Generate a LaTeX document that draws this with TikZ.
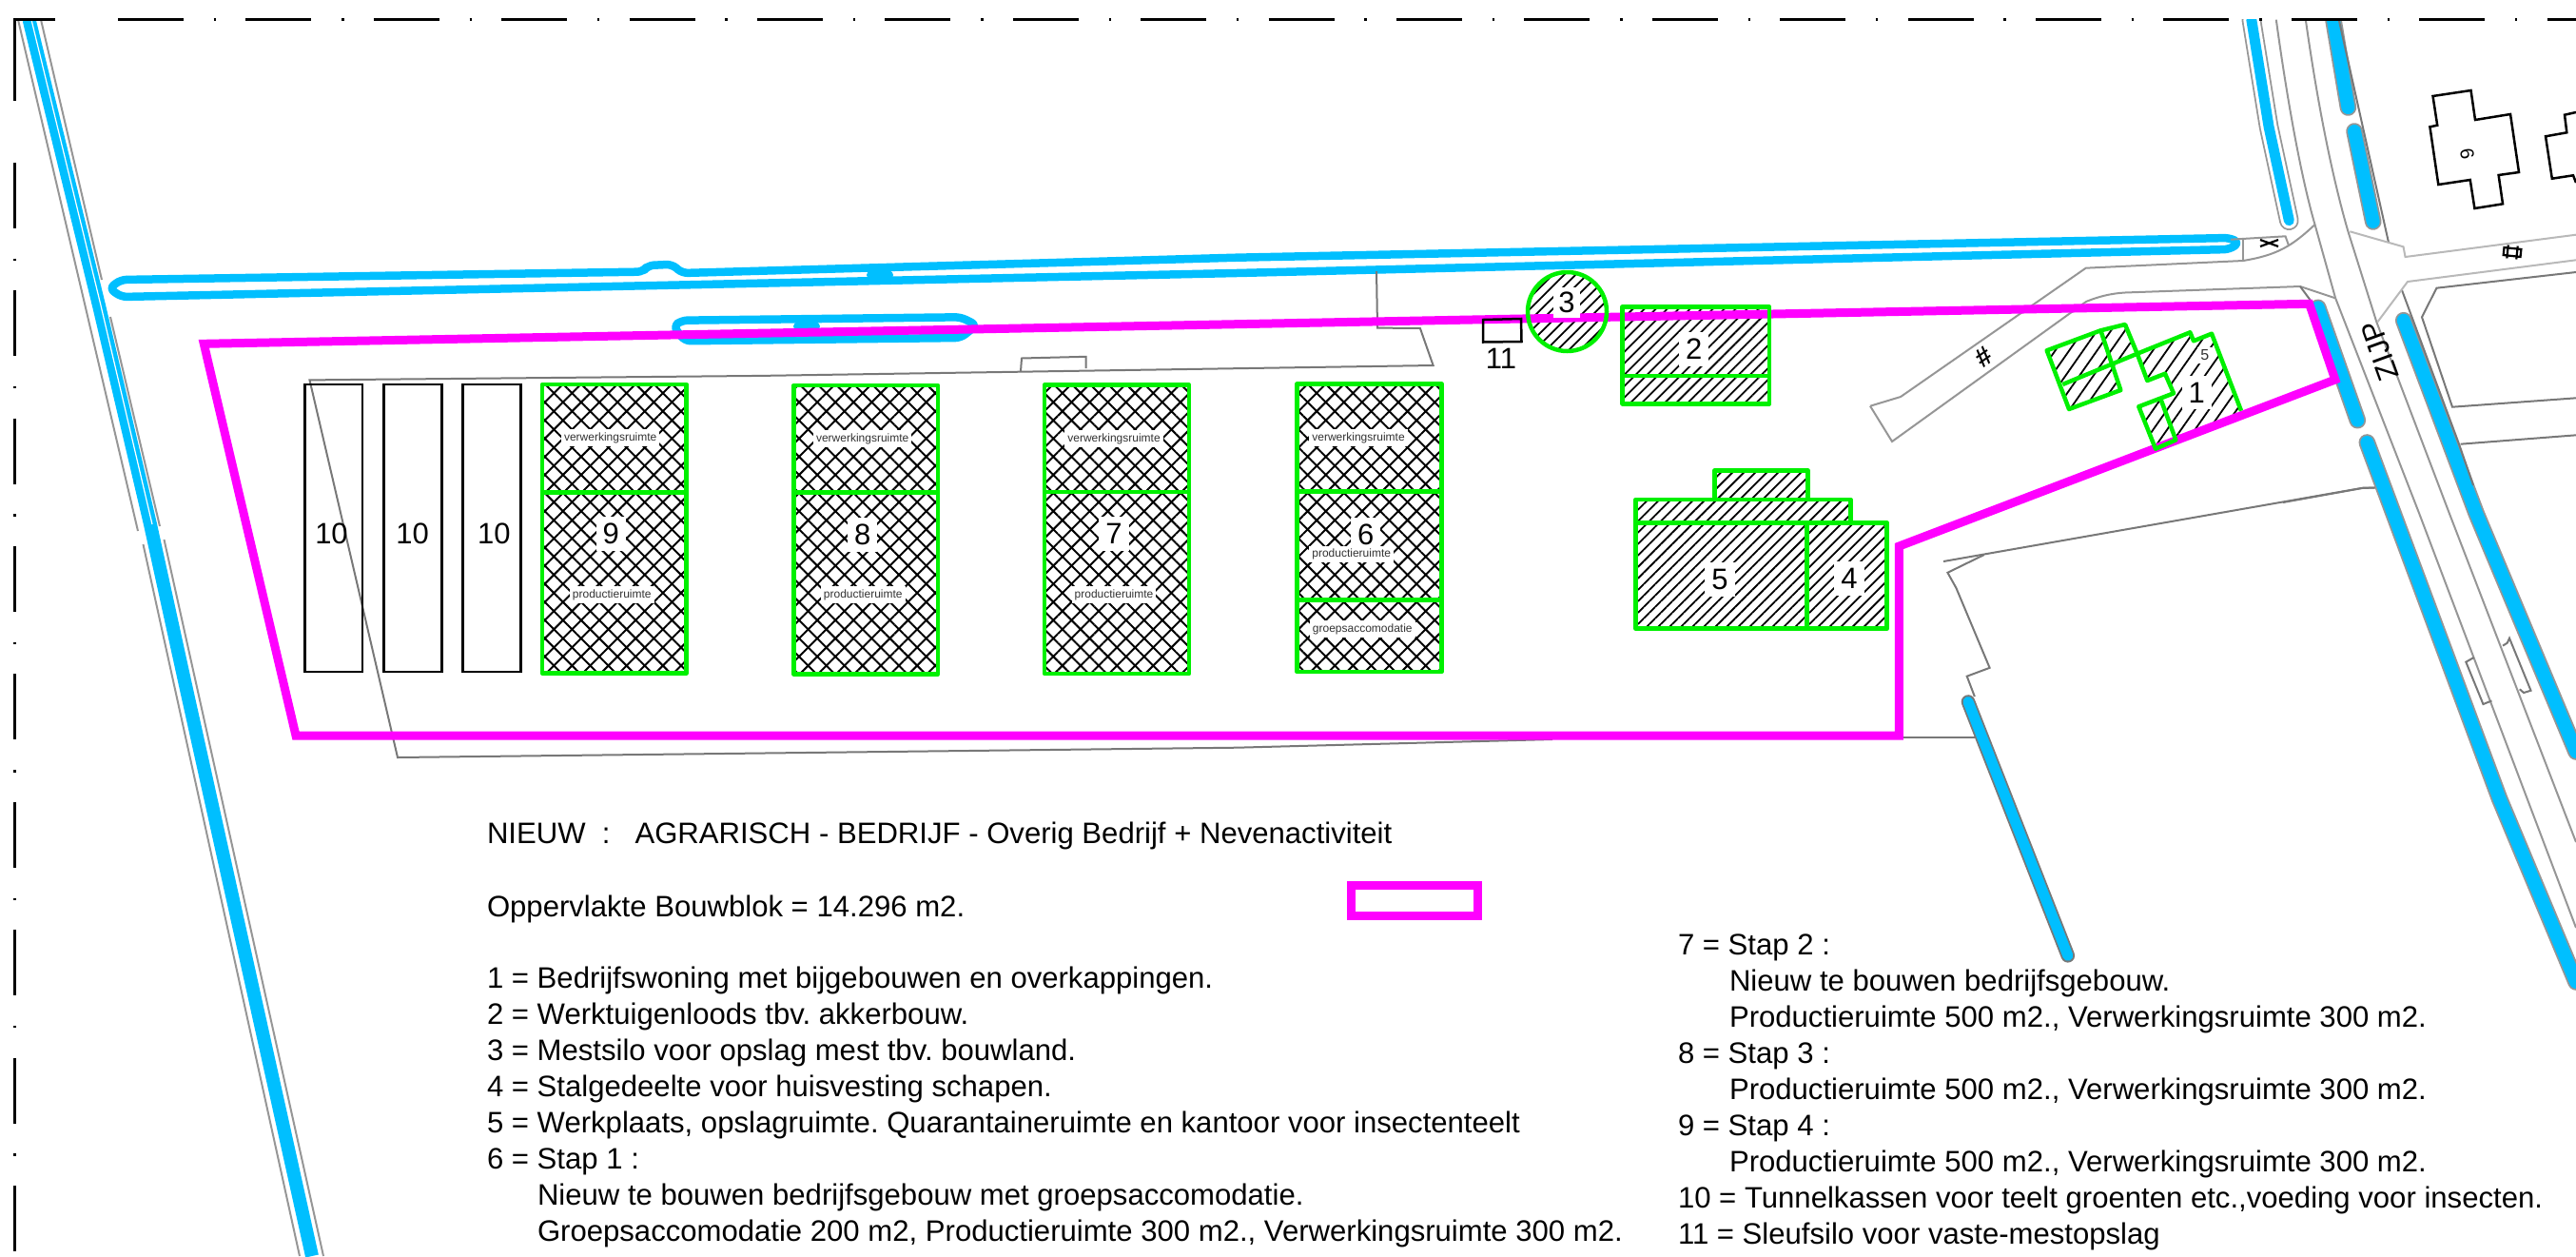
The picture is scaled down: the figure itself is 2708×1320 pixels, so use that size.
\documentclass[tikz,border=0pt]{standalone}
\usepackage{xcolor}
\usepackage{fontspec}
\setmainfont{Liberation Sans}
\definecolor{planblue}{RGB}{0, 191, 255}
\definecolor{planpink}{RGB}{255, 0, 255}
\definecolor{plangreen}{RGB}{0, 240, 0}
\definecolor{roadgray}{RGB}{150, 150, 150}
\definecolor{sitegray}{RGB}{120, 120, 120}
\definecolor{sidegray}{RGB}{185, 185, 185}
\usetikzlibrary{positioning, patterns.meta}

\begin{document}
\frenchspacing
\begin{tikzpicture}[
    x=1pt, y=-1pt,
    node distance=8pt and 0pt,
    water/.style={draw=planblue, line width=8.5pt, line cap=round, line join=round},
    ditch/.style={draw=roadgray, line width=1.8pt, double=planblue, double distance=14pt,
                  line cap=round, line join=round},
    road/.style={draw=roadgray, line width=2pt},
    site/.style={draw=sitegray, line width=2pt},
    side/.style={draw=sidegray, line width=2pt},
    bound/.style={draw=planpink, line width=9pt, line join=miter},
    wall/.style={draw=plangreen, line width=4.5pt, line join=round},
    tunnel/.style={draw=black, line width=2.5pt},
    border/.style={draw=black, line width=3pt},
    single/.style={pattern={Lines[angle=45, distance=8.5pt, line width=1.8pt]}},
    slanted/.style={pattern={Lines[angle=55, distance=12pt, line width=1.8pt]}},
    cross/.style={pattern={Hatch[angle=45, distance=13.5pt, line width=2pt]}},
    digit/.style={font=\fontsize{31}{31}\selectfont, inner sep=0pt},
    tag/.style={digit, fill=white, inner sep=7pt},
    room/.style={font=\fontsize{12}{12}\selectfont, text=black!80, fill=white, inner sep=3pt},
    legend/.style={font=\fontsize{31.1}{31}\selectfont, anchor=north west, inner sep=0pt, outer sep=0pt,
                   text height=23pt, text depth=7pt}
]
    \useasboundingbox (0,0) rectangle (2708,1320);

    % water and roads, cut off at the frame
    \begin{scope}
    \clip (0,20.7) rectangle (2708,1320);
    \draw[road] (19,20.7) -- (145,558);
    \draw[road] (150.5,572) -- (315,1320);
    \draw[road] (43,20.7) -- (107,294);
    \draw[road] (116,333) -- (168,553);
    \draw[road] (172.5,567) -- (340,1320);
    \draw[planblue, line width=14pt, line join=round] (30.6,20.7) -- (104,321) -- (158,551) -- (195,720) -- (328,1320);
    \draw[white, line width=1.2pt] (33,20.7) -- (106,321) -- (160,551);

    \draw[water, rounded corners=6pt] (127,294) -- (676,285.6) -- (681,279) -- (706.6,277.8) -- (717,287) -- (1300,270.7)
        -- (2344,250) -- (2354,255) -- (2344,262) -- (1300,287) -- (127.5,312) -- (115,303) -- cycle;
    \fill[planblue] (925,289) ellipse (14pt and 7pt);
    \draw[water, rounded corners=6pt] (716.7,336.7) -- (1010,333.3) -- (1026.7,341.7) -- (1010,355) -- (720,358.3) -- (708,343) -- cycle;
    \fill[planblue] (848,343) ellipse (14pt and 7pt);

    % west side of the road
    \draw[road, draw=roadgray, line width=1.8pt, double=white, double distance=17pt, line cap=round] (2366.8,20.7) -- (2385,133) -- (2406.3,231.7);
    \draw[planblue, line width=11pt, line cap=round] (2366.8,20.7) -- (2385,133) -- (2406.3,231.7);
    \draw[ditch] (2436.7,323.3) -- (2478.3,441.7);
    \draw[ditch] (2488.3,465) -- (2559.8,657) -- (2627.5,839.3) -- (2708,1032);
    \draw[ditch, double distance=11pt, draw=sitegray] (2069,737.5) -- (2173.8,1004.3);

    % road lines
    \draw[road] (2392.8,20.7) .. controls (2405,110) and (2420,190) .. (2433.5,236) -- (2455,313) -- (2543.3,540) -- (2708,975);
    \draw[road] (2423.8,20.7) .. controls (2435,100) and (2450,180) .. (2468.4,243.3) -- (2498.3,338.3) -- (2575,540) -- (2708,885);

    % east side of the road
    \draw[ditch] (2452.9,20.7) -- (2468.4,113);
    \draw[ditch] (2475,138) -- (2494.7,233);
    \draw[site] (2458.7,20.7) -- (2511,255);
    \draw[ditch] (2526.7,336.7) -- (2603.3,540) -- (2708,790);
    \draw[site] (2525,305) -- (2585,466.7) -- (2600,510);

    % side roads and yards
    \draw[road] (2345,251.7) -- (2402.5,248.3) -- (2406,258);
    \draw[road] (2358,251.7) -- (2358,274);
    \draw[road] (1966,426.7) -- (1998,417) -- (2192.7,281.7) -- (2358,274) .. controls (2394.7,268) and (2410,258) .. (2433.5,236);
    \draw[road] (1966,426.7) -- (1989,464) -- (2193,317) .. controls (2210,310) and (2225,307.5) .. (2239.6,307.3)
        -- (2418,301) -- (2454.8,313.3);
    \draw[site] (2418,301) -- (2429.6,316.7);
    \draw[side] (2470.3,243.3) -- (2526.5,259.3) -- (2528.5,270) -- (2708,246.7);
    \draw[side] (2499.4,338.3) -- (2531,296) -- (2708,273.3);
    \draw[site] (2708,286) -- (2561.4,302.7) -- (2546,333.3) -- (2578,427.7) -- (2708,418.3);
    \draw[site] (2586.6,466.7) -- (2708,457.3);
    \draw[site] (2400,528) -- (2483,513) -- (2496.6,512.5);
    \draw[site] (2043,590) -- (2485.3,512.5) -- (2496.6,512.5);
    \draw[site] (2085.8,583) -- (2047.4,601.8) -- (2056.4,617.9) -- (2091.6,701.8) -- (2067.7,710.7) -- (2075.8,732);
    \draw[site] (2000,775.4) -- (2076.7,775.4);
    \draw[site] (2600.5,691) -- (2592.3,695.7) -- (2610.4,740) -- (2619.4,736.4);
    \draw[site] (2631,678.6) -- (2635.7,675.7) -- (2638,670.7) -- (2660.5,725.7) -- (2653,728) -- (2648.8,724.3);
    \end{scope}

    % outline of the old yard
    \draw[site] (1447,285) -- (1448,344.6) -- (1492.9,345) -- (1506.6,384) -- (800,394.9) -- (325.5,399.4)
        -- (418,796) -- (1300,785.7) -- (1632,777);
    \draw[site] (1073,390) -- (1074,376.5) -- (1141.6,374.8) -- (1141.6,387);

    % houses across the road
    \draw[tunnel] (2557.5,101) -- (2597.5,95) -- (2602,126) -- (2639,120) -- (2648,181) -- (2626.6,184) -- (2631,214.3)
        -- (2601.4,219) -- (2596.7,189) -- (2563.3,194) -- (2554.4,133.3) -- (2562.2,131.7) -- cycle;
    \draw[tunnel] (2708,118) -- (2696,120.7) -- (2698.3,139.3) -- (2676,143.3) -- (2682.8,187.7) -- (2705,184.3) -- (2708,192);
    \node[font=\fontsize{20}{20}\selectfont, rotate=-80, inner sep=0pt] (house) at (2593.6,161.7) {6};
    \node[font=\bfseries\fontsize{28}{28}\selectfont, rotate=35, inner sep=0pt] (mark) at (2085,375.7) {\#};
    \draw[black, line width=2.2pt] (2376,252) -- (2395,259) (2376,259) -- (2395,252);
    \draw[black, line width=2.2pt, rotate around={-6:(2641,265)}] (2632,261) rectangle (2650,269) (2636,258) -- (2636,272) (2646,258) -- (2646,272);

    % hatching of the buildings
    \path[cross] (570,404) rectangle (721.7,707.3);
    \path[cross] (834.3,405) rectangle (986,708.3);
    \path[cross] (1098,404.5) rectangle (1250,708);
    \path[cross] (1363.5,403.5) rectangle (1515.5,706);
    \path[single] (1705.6,322.5) rectangle (1860.2,424.3);
    \path[single] (1647.5,327.5) circle (41.5pt);
    \path[single] (1719.4,549.3) rectangle (1983.7,660.7);
    \path[single] (1719.4,525) rectangle (1945.4,549.3);
    \path[single] (1802.6,494.3) rectangle (1900.5,525);
    \path[slanted] (2151.7,368.3) -- (2208.3,347.3) -- (2234,341) -- (2246.7,371.7) -- (2222.7,381.7) -- (2229.3,410) -- (2175,430) -- cycle;
    \path[slanted] (2246.7,371.7) -- (2302.3,349.3) -- (2306,358.3) -- (2325,350.7) -- (2356,431.7) -- (2266,471.7)
        -- (2248.3,427.3) -- (2285,413.3) -- (2276,392.7) -- (2257.3,400) -- cycle;

    % building block
    \draw[bound] (214.3,361.3) -- (311,773) -- (1996.4,773) -- (1996.4,574) -- (2454.8,399) -- (2427.6,319.3) -- cycle;

    % walls
    \draw[wall] (570,404) rectangle (721.7,707.3) (570,517.3) -- (721.7,517.3);
    \draw[wall] (834.3,405) rectangle (986,708.3) (834.3,517.7) -- (986,517.7);
    \draw[wall] (1098,404.5) rectangle (1250,708) (1098,517) -- (1250,517);
    \draw[wall] (1363.5,403.5) rectangle (1515.5,706) (1363.5,516.7) -- (1515.5,516.7) (1363.5,630.3) -- (1515.5,630.3);
    \draw[wall] (1705.6,322.5) rectangle (1860.2,424.3) (1705.6,395) -- (1860.2,395);
    \draw[wall] (1647.5,327.5) circle (41.5pt);
    \draw[wall] (1719.4,549.3) rectangle (1983.7,660.7) (1899.5,549.3) -- (1899.5,660.7);
    \draw[wall] (1719.4,549.3) -- (1719.4,525) -- (1945.4,525) -- (1945.4,549.3);
    \draw[wall] (1802.6,525) -- (1802.6,494.3) -- (1900.5,494.3) -- (1900.5,525);
    \draw[wall] (2168.3,404) -- (2246.7,371.7);
    \draw[wall] (2208.3,347.3) -- (2151.7,368.3) -- (2175,430) -- (2229.3,410) -- (2208.3,347.3) -- (2234,341) -- (2246.7,371.7);
    \draw[wall] (2246.7,371.7) -- (2302.3,349.3) -- (2306,358.3) -- (2325,350.7) -- (2356,431.7);
    \draw[wall] (2246.7,371.7) -- (2257.3,400) -- (2276,392.7) -- (2285,413.3) -- (2248.3,427.3) -- (2266,471.7) -- (2287.3,462.3) -- (2271,418.3);

    % tunnels and silo
    \draw[tunnel] (320.4,404) rectangle (381,706);
    \draw[tunnel] (403.6,404) rectangle (464.3,706);
    \draw[tunnel] (486.7,404) rectangle (547.4,706);
    \draw[tunnel] (1559,336) -- (1599,335) -- (1599.5,359) -- (1559,359.5) -- cycle;

    \node[digit] (tunnelA) at (348.5,561) {10};
    \node[digit] (tunnelB) at (433.7,561) {10};
    \node[digit] (tunnelC) at (519.4,561) {10};
    \node[digit] (silo) at (1578,376.8) {11};

    \node[tag] (bldNine) at (642.3,561) {9};
    \node[tag] (bldEight) at (906.7,562) {8};
    \node[tag] (bldSeven) at (1171,561) {7};
    \node[tag] (bldSix) at (1435.7,561.7) {6};
    \node[tag] (bldFive) at (1808,609) {5};
    \node[tag] (bldFour) at (1943.9,608) {4};
    \node[tag, inner sep=5pt] (bldThree) at (1647,318) {3};
    \node[tag] (bldTwo) at (1780.6,367) {2};
    \node[tag] (bldOne) at (2309.3,412.7) {1};
    \node[room, font=\fontsize{16}{16}\selectfont] (bldFiveSmall) at (2317.7,373.3) {5};

    \node[room] (verwNine) at (641.7,460) {verwerkingsruimte};
    \node[room] (prodNine) at (643.3,625) {productieruimte};
    \node[room] (verwEight) at (906.7,461) {verwerkingsruimte};
    \node[room] (prodEight) at (907.3,625) {productieruimte};
    \node[room] (verwSeven) at (1171,461) {verwerkingsruimte};
    \node[room] (prodSeven) at (1171,625) {productieruimte};
    \node[room] (verwSix) at (1428,460) {verwerkingsruimte};
    \node[room] (prodSix) at (1420.7,582.3) {productieruimte};
    \node[room] (groepSix) at (1432.3,661) {groepsaccomodatie};

    \node[digit, rotate=110] (street) at (2502,369) {ZIJP};

    % frame
    \draw[border] (58,20.7) -- (15,20.7) -- (15,105.6);
    \draw[border, dash pattern=on 69pt off 31.7pt on 2.5pt off 31.2pt] (124,20.7) -- (2708,20.7);
    \draw[border, dash pattern=on 69pt off 31.7pt on 2.5pt off 31.2pt] (15,170.8) -- (15,1320);

    % legend
    \node[legend] (title) at (512,863.7) {NIEUW\ \ :\ \ \ AGRARISCH - BEDRIJF - Overig Bedrijf + Nevenactiviteit};
    \node[legend] (area) at (512,940) {Oppervlakte Bouwblok = 14.296 m2.};
    \draw[bound] (1420,930) rectangle (1553,962.5);

    \node[legend] (itemOne) at (512,1015) {1 = Bedrijfswoning met bijgebouwen en overkappingen.};
    \node[legend, below right=of itemOne.south west] (itemTwo) {2 = Werktuigenloods tbv. akkerbouw.};
    \node[legend, below right=of itemTwo.south west] (itemThree) {3 = Mestsilo voor opslag mest tbv. bouwland.};
    \node[legend, below right=of itemThree.south west] (itemFour) {4 = Stalgedeelte voor huisvesting schapen.};
    \node[legend, below right=of itemFour.south west] (itemFive) {5 = Werkplaats, opslagruimte. Quarantaineruimte en kantoor voor insectenteelt};
    \node[legend, below right=of itemFive.south west] (itemSix) {6 = Stap 1 :};
    \node[legend, below right=of itemSix.south west, xshift=53pt] (itemSixA) {Nieuw te bouwen bedrijfsgebouw met groepsaccomodatie.};
    \node[legend, below right=of itemSixA.south west] (itemSixB) {Groepsaccomodatie 200 m2, Productieruimte 300 m2., Verwerkingsruimte 300 m2.};

    \node[legend] (itemSeven) at (1764,980) {7 = Stap 2 :};
    \node[legend, below right=of itemSeven.south west, xshift=54pt] (itemSevenA) {Nieuw te bouwen bedrijfsgebouw.};
    \node[legend, below right=of itemSevenA.south west] (itemSevenB) {Productieruimte 500 m2., Verwerkingsruimte 300 m2.};
    \node[legend, below right=of itemSevenB.south west, xshift=-54pt] (itemEight) {8 = Stap 3 :};
    \node[legend, below right=of itemEight.south west, xshift=54pt] (itemEightA) {Productieruimte 500 m2., Verwerkingsruimte 300 m2.};
    \node[legend, below right=of itemEightA.south west, xshift=-54pt] (itemNine) {9 = Stap 4 :};
    \node[legend, below right=of itemNine.south west, xshift=54pt] (itemNineA) {Productieruimte 500 m2., Verwerkingsruimte 300 m2.};
    \node[legend, below right=of itemNineA.south west, xshift=-54pt] (itemTen) {10 = Tunnelkassen voor teelt groenten etc.,voeding voor insecten.};
    \node[legend, below right=of itemTen.south west] (itemEleven) {11 = Sleufsilo voor vaste-mestopslag};
\end{tikzpicture}
\end{document}
